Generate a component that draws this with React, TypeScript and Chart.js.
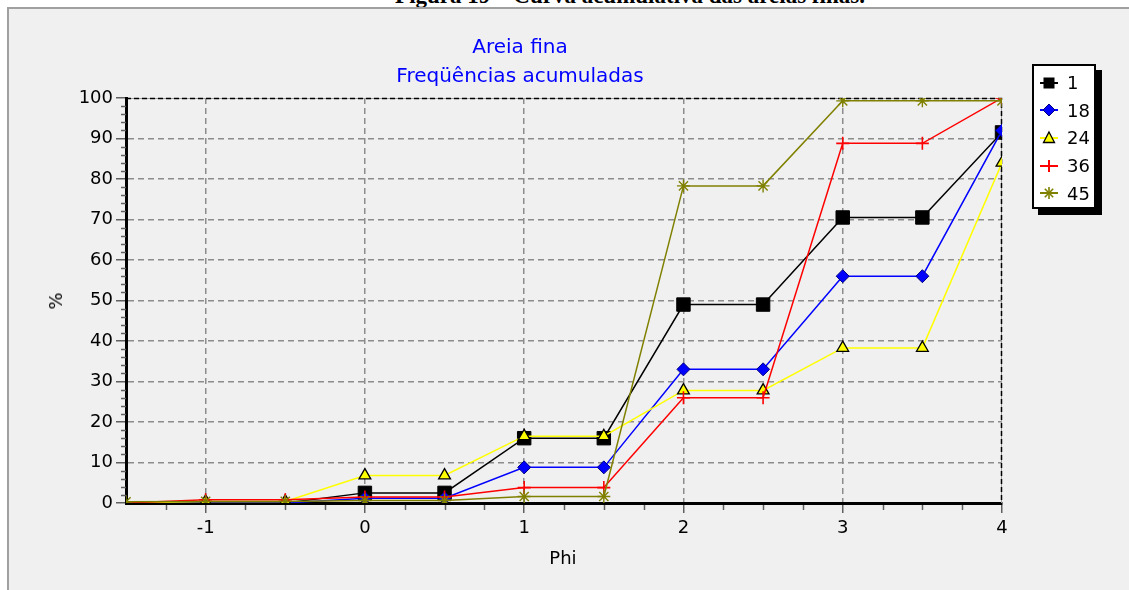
import React, { useEffect, useRef } from 'react';
import { Chart, registerables } from 'chart.js';

Chart.register(...registerables);

// ---- data ----
const phi = [-1.5, -1, -0.5, 0, 0.5, 1, 1.5, 2, 2.5, 3, 3.5, 4];
const s1 = [0, 0, 0, 2.5, 2.5, 16, 16, 49, 49, 70.5, 70.5, 91.5];
const s18 = [0, 0, 0, 1.2, 1.2, 8.8, 8.8, 33, 33, 56, 56, 92];
const s24 = [0, 0.4, 0.4, 6.8, 6.8, 16.5, 16.5, 27.8, 27.8, 38.3, 38.3, 84];
const s36 = [0, 0.8, 0.8, 1.5, 1.5, 3.8, 3.8, 26, 26, 88.8, 88.8, 100];
const s45 = [0.3, 0.4, 0.4, 0.6, 0.6, 1.6, 1.6, 78.3, 78.3, 99.3, 99.3, 99.3];
const seriesNames = ['1', '18', '24', '36', '45'];
const xTicks = [-1, 0, 1, 2, 3, 4];
const yTicks = [0, 10, 20, 30, 40, 50, 60, 70, 80, 90, 100];
const titleLines = ['Areia fina', 'Freqüências acumuladas'];
const xTitle = 'Phi';
const yTitle = '%';
const caption = 'Figura 19 – Curva acumulativa das areias finas.';

const FONT = '"DejaVu Sans", "Liberation Sans", sans-serif';

const toPts = (vals: number[]) => phi.map((x, i) => ({ x, y: vals[i] }));
const rad = (r: number) => (c: any) => (c.raw && c.raw.y === 0 ? 0 : r);

const framePlugin = {
  id: 'frame',
  beforeDatasetsDraw(chart: any) {
    const { ctx, chartArea: a, scales } = chart;
    const xs = scales.x;
    const ys = scales.y;
    ctx.save();
    // top and right frame: gray base with black dashes
    ctx.lineWidth = 1;
    ctx.strokeStyle = '#a0a0a0';
    ctx.beginPath();
    ctx.moveTo(a.left, a.top + 0.5);
    ctx.lineTo(a.right - 0.5, a.top + 0.5);
    ctx.lineTo(a.right - 0.5, a.bottom);
    ctx.stroke();
    ctx.lineWidth = 1.5;
    ctx.strokeStyle = '#000';
    ctx.setLineDash([5, 3]);
    ctx.beginPath();
    ctx.moveTo(a.left, a.top + 0.5);
    ctx.lineTo(a.right - 0.5, a.top + 0.5);
    ctx.lineTo(a.right - 0.5, a.bottom);
    ctx.stroke();
    ctx.setLineDash([]);
    // minor ticks
    ctx.strokeStyle = '#606060';
    ctx.lineWidth = 1.5;
    for (let v = -1.25; v < 4; v += 0.25) {
      if (Math.abs(v - Math.round(v)) < 1e-6) continue;
      const px = Math.round(xs.getPixelForValue(v)) + 0.5;
      ctx.beginPath();
      ctx.moveTo(px, a.bottom + 2);
      ctx.lineTo(px, a.bottom + 7);
      ctx.stroke();
    }
    for (let v = 2; v < 100; v += 2) {
      if (v % 10 === 0) continue;
      const py = Math.round(ys.getPixelForValue(v)) + 0.5;
      ctx.beginPath();
      ctx.moveTo(a.left - 5, py);
      ctx.lineTo(a.left, py);
      ctx.stroke();
    }
    ctx.restore();
  },
};

const legendRows = [82.7, 110.2, 138, 165.8, 193.4];
const seriesColors = ['#000000', '#0000ff', '#ffff00', '#ff0000', '#808000'];

function LegendMarker({ i }: { i: number }) {
  const c = seriesColors[i];
  let shape: any = null;
  if (i === 0) shape = <rect x={5.5} y={2.5} width={11} height={11} fill="#000" />;
  if (i === 1) shape = <polygon points="11,2 17,8 11,14 5,8" fill="#0000ff" stroke="#000080" strokeWidth={1} />;
  if (i === 2) shape = <polygon points="11,2 16.5,12.5 5.5,12.5" fill="#ffff00" stroke="#000" strokeWidth={1.3} />;
  if (i === 3)
    shape = (
      <g stroke="#ff0000" strokeWidth={2}>
        <line x1={11} y1={2} x2={11} y2={14} />
      </g>
    );
  if (i === 4)
    shape = (
      <g stroke="#808000" strokeWidth={1.6}>
        <line x1={11} y1={2} x2={11} y2={14} />
        <line x1={5} y1={8} x2={17} y2={8} />
        <line x1={6.8} y1={3.8} x2={15.2} y2={12.2} />
        <line x1={6.8} y1={12.2} x2={15.2} y2={3.8} />
      </g>
    );
  return (
    <svg width={22} height={16} style={{ position: 'absolute', left: 1038, top: legendRows[i] - 8 }}>
      <line x1={2} y1={8} x2={20} y2={8} stroke={c} strokeWidth={2} />
      {shape}
    </svg>
  );
}

export default function App() {
  const ref = useRef<HTMLCanvasElement>(null);

  useEffect(() => {
    const tickFont = { family: FONT, size: 18 };
    const chart = new Chart(ref.current as HTMLCanvasElement, {
      type: 'line',
      data: {
        datasets: [
          {
            label: seriesNames[0], data: toPts(s1), borderColor: '#000', backgroundColor: '#000',
            pointStyle: 'rect', pointRadius: rad(9.5), pointBackgroundColor: '#000', pointBorderColor: '#000',
            pointBorderWidth: 1, borderWidth: 1.5, order: 5,
          },
          {
            label: seriesNames[1], data: toPts(s18), borderColor: '#0000ff', backgroundColor: '#0000ff',
            pointStyle: 'rectRot', pointRadius: rad(6.5), pointBackgroundColor: '#0000ff', pointBorderColor: '#000080',
            pointBorderWidth: 1, borderWidth: 1.5, order: 4,
          },
          {
            label: seriesNames[2], data: toPts(s24), borderColor: '#ffff00', backgroundColor: '#ffff00',
            pointStyle: 'triangle', pointRadius: rad(6.8), pointBackgroundColor: '#ffff00', pointBorderColor: '#000',
            pointBorderWidth: 1.3, borderWidth: 1.5, order: 3,
          },
          {
            label: seriesNames[3], data: toPts(s36), borderColor: '#ff0000', backgroundColor: '#ff0000',
            pointStyle: 'cross', pointRadius: rad(6.5), pointBackgroundColor: '#ff0000', pointBorderColor: '#ff0000',
            pointBorderWidth: 1.6, borderWidth: 1.5, order: 2,
          },
          {
            label: seriesNames[4], data: toPts(s45), borderColor: '#808000', backgroundColor: '#808000',
            pointStyle: 'star', pointRadius: rad(6.5), pointBackgroundColor: '#808000', pointBorderColor: '#808000',
            pointBorderWidth: 1.4, borderWidth: 1.5, order: 1,
          },
        ],
      },
      options: {
        responsive: false,
        devicePixelRatio: 1,
        animation: false,
        events: [],
        layout: { padding: { top: 98, right: 127, bottom: 0, left: 0 } },
        elements: { line: { tension: 0, fill: false }, point: { hoverRadius: 0 } },
        plugins: { legend: { display: false }, title: { display: false }, tooltip: { enabled: false } },
        scales: {
          x: {
            type: 'linear',
            min: -1.5,
            max: 4,
            afterFit: (s: any) => { s.height = 87; },
            afterBuildTicks: (s: any) => { s.ticks = xTicks.map((v) => ({ value: v })); },
            ticks: { font: tickFont, color: '#000', padding: 5, maxRotation: 0, autoSkip: false, callback: (v: any) => String(v) },
            grid: {
              color: (c: any) => (c.tick && c.tick.value === 4 ? 'rgba(0,0,0,0)' : '#8c8c8c'),
              lineWidth: 1.5,
              tickLength: 10,
              tickColor: '#606060',
              tickWidth: 1.5,
              tickBorderDash: [],
            },
            border: { color: '#000', width: 3, dash: [6, 4] },
          },
          y: {
            type: 'linear',
            min: 0,
            max: 100,
            afterFit: (s: any) => { s.width = 126; },
            afterBuildTicks: (s: any) => { s.ticks = yTicks.map((v) => ({ value: v })); },
            ticks: { font: tickFont, color: '#000', padding: 3, autoSkip: false, callback: (v: any) => String(v) },
            grid: {
              color: (c: any) => (c.tick && (c.tick.value === 100 || c.tick.value === 0) ? 'rgba(0,0,0,0)' : '#8c8c8c'),
              lineWidth: 1.5,
              tickLength: 10,
              tickColor: '#606060',
              tickWidth: 1.5,
              tickBorderDash: [],
            },
            border: { color: '#000', width: 3, dash: [6, 4] },
          },
        },
      },
      plugins: [framePlugin],
    } as any);
    return () => chart.destroy();
  }, []);

  return (
    <div style={{ position: 'absolute', left: 0, top: 0, width: 1129, height: 590, overflow: 'hidden', background: '#fff' }}>
      <div
        style={{
          position: 'absolute', left: 0, width: 1260, top: -16, textAlign: 'center', whiteSpace: 'nowrap',
          font: 'bold 23px "Liberation Serif", serif', lineHeight: '24px', color: '#000',
        }}
      >
        {caption}
      </div>
      <div
        style={{
          position: 'absolute', left: 7, top: 7, width: 1140, height: 600, background: '#f0f0f0',
          borderLeft: '2px solid #a0a0a0', borderTop: '2px solid #a0a0a0',
        }}
      />
      <canvas ref={ref} width={1129} height={590} style={{ position: 'absolute', left: 0, top: 0, width: 1129, height: 590 }} />
      {titleLines.map((t, i) => (
        <div
          key={t}
          style={{
            position: 'absolute', left: 220, width: 600, top: i === 0 ? 34 : 63, textAlign: 'center',
            fontFamily: FONT, fontSize: 20, lineHeight: '24px', color: '#0000ff', whiteSpace: 'nowrap',
          }}
        >
          {t}
        </div>
      ))}
      <div
        style={{
          position: 'absolute', left: 463, width: 200, top: 546, textAlign: 'center',
          fontFamily: FONT, fontSize: 18, lineHeight: '24px', color: '#000',
        }}
      >
        {xTitle}
      </div>
      <div
        style={{
          position: 'absolute', left: 55.5, top: 301, transform: 'translate(-50%, -50%) rotate(-90deg)',
          fontFamily: FONT, fontSize: 18, lineHeight: '24px', color: '#000', whiteSpace: 'nowrap',
        }}
      >
        {yTitle}
      </div>
      <div
        style={{
          position: 'absolute', left: 1032, top: 64, width: 60, height: 141, background: '#fff',
          border: '2px solid #000', boxShadow: '6px 6px 0 #000',
        }}
      />
      {seriesNames.map((n, i) => (
        <React.Fragment key={n}>
          <LegendMarker i={i} />
          <div
            style={{
              position: 'absolute', left: 1067, top: legendRows[i] - 11.6, fontFamily: FONT, fontSize: 18,
              lineHeight: '24px', color: '#000', whiteSpace: 'nowrap',
            }}
          >
            {n}
          </div>
        </React.Fragment>
      ))}
    </div>
  );
}
